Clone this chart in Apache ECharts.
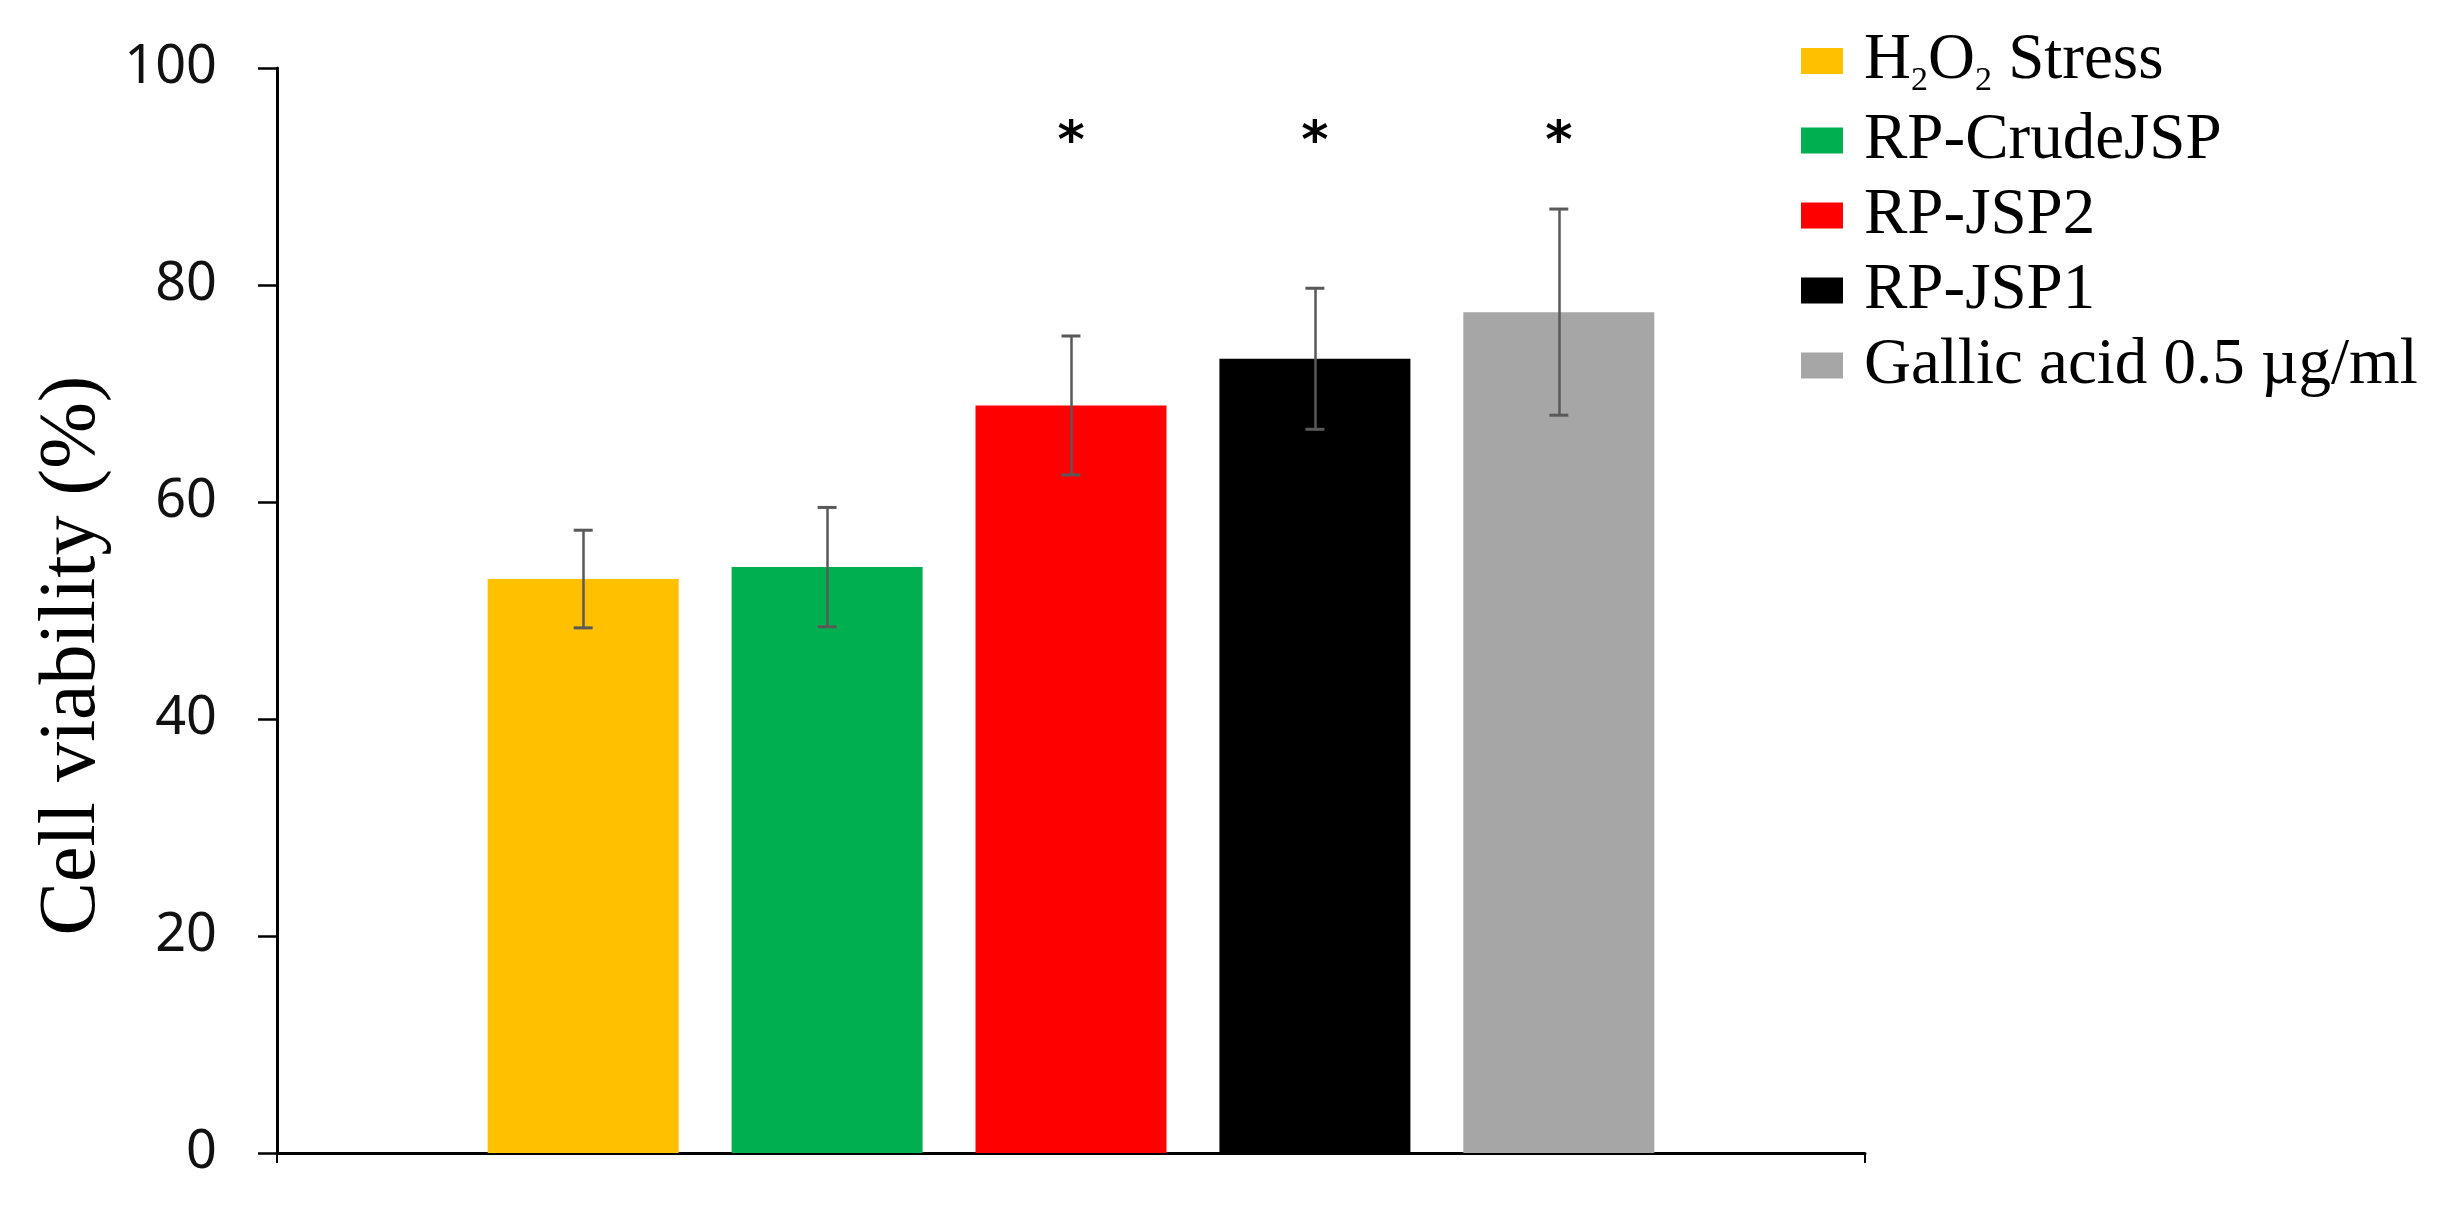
<!DOCTYPE html>
<html>
<head>
<meta charset="utf-8">
<script src="https://cdn.jsdelivr.net/npm/echarts@6/dist/echarts.min.js"></script>
<style>html,body{margin:0;padding:0;background:#fff;}#chart{width:2443px;height:1216px;}</style>
</head>
<body>
<div id="chart"></div>
<script>
const categories = [''];
const groups = ['H2O2 Stress', 'RP-CrudeJSP', 'RP-JSP2', 'RP-JSP1', 'Gallic acid 0.5 µg/ml'];
const means = [52.9, 54.0, 68.9, 73.2, 77.5];
const errors = [4.5, 5.5, 6.4, 6.5, 9.5];
const sigMarks = ['', '', '*', '*', '*'];
const sigLevel = 93;
const colors = ['#FFC000', '#00B050', '#FF0000', '#000000', '#A6A6A6'];
const yMin = 0, yMax = 100, yStep = 20;

const chart = echarts.init(document.getElementById('chart'));

const series = groups.map((name, i) => {
  const mp = [
    {coord: [0, means[i] + errors[i]], symbol: 'rect', symbolSize: [19, 3], itemStyle: {color: '#595959'}, label: {show: false}},
    {coord: [0, means[i] - errors[i]], symbol: 'rect', symbolSize: [19, 3], itemStyle: {color: '#595959'}, label: {show: false}}
  ];
  if (sigMarks[i]) {
    mp.push({coord: [0, sigLevel], symbol: 'circle', symbolSize: 1, itemStyle: {color: 'rgba(0,0,0,0)'},
      label: {show: true, position: 'inside', formatter: sigMarks[i], fontSize: 52, fontWeight: 'bold', fontFamily: 'DejaVu Sans', color: '#000'}});
  }
  return {
    name: name,
    type: 'bar',
    data: [means[i]],
    barWidth: 191,
    barGap: '27.7%',
    itemStyle: {color: colors[i]},
    silent: true,
    markLine: {
      silent: true,
      symbol: 'none',
      animation: false,
      label: {show: false},
      lineStyle: {color: '#595959', width: 2.5, type: 'solid'},
      data: [[{coord: [0, means[i] - errors[i]]}, {coord: [0, means[i] + errors[i]]}]]
    },
    markPoint: {silent: true, animation: false, data: mp}
  };
});

chart.setOption({
  animation: false,
  backgroundColor: '#fff',
  grid: {left: 277, right: 578, top: 68, bottom: 63, containLabel: false, outerBoundsMode: 'none'},
  legend: {
    orient: 'vertical',
    left: 1796,
    top: 19,
    itemWidth: 42,
    itemHeight: 26,
    itemGap: 10,
    icon: 'rect',
    selectedMode: false,
    data: groups,
    formatter: function (n) {
      if (n === 'H2O2 Stress') return '{m|H}{sub|2}{m|O}{sub|2}{m| Stress}';
      return n;
    },
    textStyle: {
      fontFamily: 'Liberation Serif',
      fontSize: 65,
      lineHeight: 62,
      color: '#000',
      padding: [0, 0, 0, 16],
      rich: {
        m: {fontFamily: 'Liberation Serif', fontSize: 65, lineHeight: 62, verticalAlign: 'middle', color: '#000'},
        sub: {fontFamily: 'Liberation Serif', fontSize: 34, lineHeight: 10, padding: [40, 0, 0, 0], verticalAlign: 'middle', color: '#000'}
      }
    }
  },
  xAxis: {
    type: 'category',
    data: categories,
    axisLine: {lineStyle: {color: '#000', width: 3}},
    axisTick: {show: true, length: 10, lineStyle: {color: '#000', width: 2}},
    axisLabel: {show: false},
    splitLine: {show: false}
  },
  yAxis: {
    type: 'value',
    min: yMin, max: yMax, interval: yStep,
    name: 'Cell viability (%)',
    nameLocation: 'middle',
    nameGap: 87,
    nameTextStyle: {fontFamily: 'Liberation Serif', fontSize: 80, color: '#000', padding: [0, 90, 0, 0]},
    axisLine: {show: true, lineStyle: {color: '#000', width: 3}},
    axisTick: {show: true, length: 19, lineStyle: {color: '#000', width: 2.5}},
    axisLabel: {fontFamily: 'Noto Sans', fontSize: 54, color: '#111', margin: 60},
    splitLine: {show: false}
  },
  series: series
});
</script>
</body>
</html>
